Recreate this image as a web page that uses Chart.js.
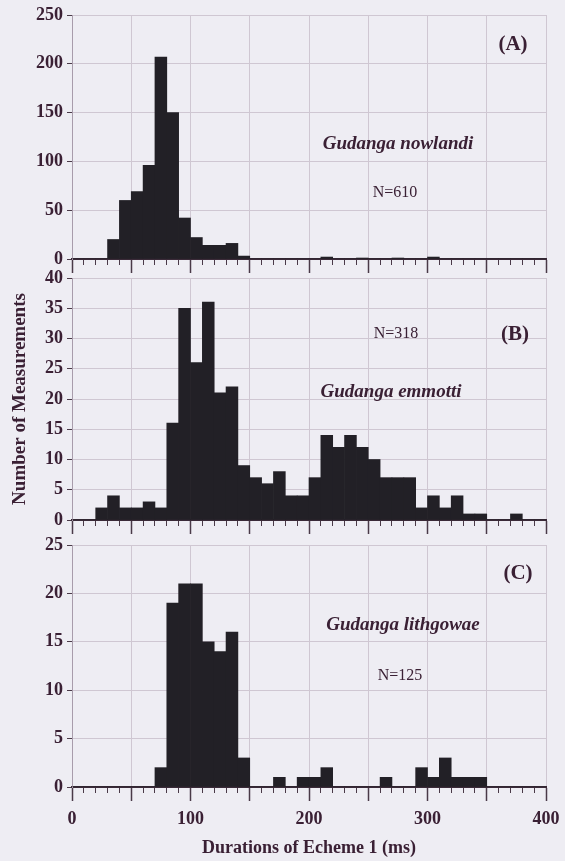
<!DOCTYPE html>
<html><head><meta charset="utf-8">
<script src="https://cdn.jsdelivr.net/npm/chart.js@4.4.1/dist/chart.umd.min.js"></script>
<style>
html,body{margin:0;padding:0;background:#eeedf3;width:565px;height:861px;overflow:hidden;position:relative;font-family:'Liberation Serif','Times New Roman',serif;}
canvas{position:absolute;left:0;}
.lbl{position:absolute;transform:translate(-50%,-50%);white-space:nowrap;color:#3a2034;line-height:1;}
.b{font-weight:bold;}
.bi{font-weight:bold;font-style:italic;}
</style></head><body>
<canvas id="cA" width="565" height="274" style="top:0px"></canvas>
<canvas id="cB" width="565" height="273" style="top:262px"></canvas>
<canvas id="cC" width="565" height="333" style="top:528px"></canvas>

<div class="lbl b" style="left:513px;top:43px;font-size:21px">(A)</div>
<div class="lbl bi" style="left:398px;top:142px;font-size:19px">Gudanga nowlandi</div>
<div class="lbl" style="left:395px;top:192px;font-size:16px">N=610</div>

<div class="lbl" style="left:396px;top:333px;font-size:16px">N=318</div>
<div class="lbl b" style="left:515px;top:333px;font-size:21px">(B)</div>
<div class="lbl bi" style="left:391px;top:390px;font-size:19px">Gudanga emmotti</div>

<div class="lbl b" style="left:518px;top:572px;font-size:21px">(C)</div>
<div class="lbl bi" style="left:403px;top:623px;font-size:19px">Gudanga lithgowae</div>
<div class="lbl" style="left:400px;top:675px;font-size:16px">N=125</div>

<script>
// ---- data ----
const binWidth = 10;
const binStarts = [0,10,20,30,40,50,60,70,80,90,100,110,120,130,140,150,160,170,180,190,
                   200,210,220,230,240,250,260,270,280,290,300,310,320,330,340,350,360,370,380,390];
// Gudanga nowlandi (A)
const countsA = [0,0,0,20,60,69,96,207,150,42,22,14,14,16,3,0,0,0,0,0,
                 0,2,0,0,1,0,0,1,0,0,2,0,0,0,0,0,0,0,0,0];
// Gudanga emmotti (B)
const countsB = [0,0,2,4,2,2,3,2,16,35,26,36,21,22,9,7,6,8,4,4,
                 7,14,12,14,12,10,7,7,7,2,4,2,4,1,1,0,0,1,0,0];
// Gudanga lithgowae (C)
const countsC = [0,0,0,0,0,0,0,2,19,21,21,15,14,16,3,0,0,1,0,1,
                 1,2,0,0,0,0,1,0,0,2,1,3,1,1,1,0,0,0,0,0];
const yTicksA = [0,50,100,150,200,250];
const yTicksB = [0,5,10,15,20,25,30,35,40];
const yTicksC = [0,5,10,15,20,25];
const xMajorTicks = [0,50,100,150,200,250,300,350,400];
const xMinorTicks = [0,10,20,30,40,50,60,70,80,90,100,110,120,130,140,150,160,170,180,190,200,
                     210,220,230,240,250,260,270,280,290,300,310,320,330,340,350,360,370,380,390,400];
const xLabels = [0,100,200,300,400];
const xTitle = 'Durations of Echeme 1 (ms)';
const yTitle = 'Number of Measurements';

// ---- style ----
const SERIF = "'Liberation Serif','Times New Roman',serif";
const TEXT = '#3a2034';
const GRID = '#cfc7d2';
const TICK = '#4a3a48';
const BAR = '#222026';

function makeChart(id, counts, yTicks, o) {
  const ctx = document.getElementById(id);
  return new Chart(ctx, {
    type: 'bar',
    data: {
      datasets: [{
        data: binStarts.map((b, i) => ({x: b + binWidth / 2, y: counts[i]})),
        backgroundColor: BAR,
        borderWidth: 0,
        barPercentage: 1,
        categoryPercentage: 1,
        xAxisID: 'x',
        yAxisID: 'y'
      }]
    },
    options: {
      responsive: false,
      animation: false,
      events: [],
      layout: {padding: {top: o.padTop, right: 19, bottom: 0, left: 0}},
      plugins: {legend: {display: false}, tooltip: {enabled: false}},
      scales: {
        x2: {
          type: 'linear', position: 'bottom', weight: 0, min: 0, max: 400, offset: false,
          afterBuildTicks: s => { s.ticks = xMinorTicks.map(v => ({value: v})); },
          afterFit: s => { s.height = 0; s.paddingLeft = 0; s.paddingRight = 0; },
          grid: {offset: false, drawOnChartArea: false, drawTicks: true, tickLength: 6, tickColor: TICK, tickWidth: 1},
          border: {display: false},
          ticks: {display: false}
        },
        x: {
          type: 'linear', position: 'bottom', weight: 1, min: 0, max: 400, offset: false,
          afterBuildTicks: s => { s.ticks = xMajorTicks.map(v => ({value: v})); },
          afterFit: s => { s.height = o.xHeight; s.paddingLeft = 0; s.paddingRight = 0; },
          grid: {offset: false, color: GRID, lineWidth: 1, drawTicks: true, tickLength: 14, tickColor: TICK, tickWidth: 1.5},
          border: {display: true, color: '#3a2a38', width: 2},
          ticks: {
            display: o.xLabels, autoSkip: false, maxRotation: 0, padding: 8,
            color: TEXT, font: {family: SERIF, size: 18, weight: 'bold'},
            callback: v => xLabels.includes(v) ? String(v) : ''
          },
          title: {display: o.xLabels, text: xTitle, color: TEXT,
                  font: {family: SERIF, size: 18, weight: 'bold'}, padding: {top: 0, bottom: 2}}
        },
        y: {
          min: 0, max: yTicks[yTicks.length - 1],
          afterBuildTicks: s => { s.ticks = yTicks.map(v => ({value: v})); },
          afterFit: s => { s.width = 72; s.paddingTop = 0; s.paddingBottom = 0; },
          grid: {color: GRID, lineWidth: 1, drawTicks: true, tickLength: 5, tickColor: TICK},
          border: {display: true, color: '#a89cab', width: 1},
          ticks: {color: TEXT, padding: 4, font: {family: SERIF, size: 18, weight: 'bold'}},
          title: {display: o.yTitle, text: yTitle, color: TEXT,
                  font: {family: SERIF, size: 19, weight: 'bold'}, padding: {top: 9, bottom: 0}}
        }
      }
    }
  });
}

makeChart('cA', countsA, yTicksA, {padTop: 15, xHeight: 15, xLabels: false, yTitle: false});
makeChart('cB', countsB, yTicksB, {padTop: 16, xHeight: 15, xLabels: false, yTitle: true});
makeChart('cC', countsC, yTicksC, {padTop: 17, xHeight: 74, xLabels: true, yTitle: false});
</script>
</body></html>
